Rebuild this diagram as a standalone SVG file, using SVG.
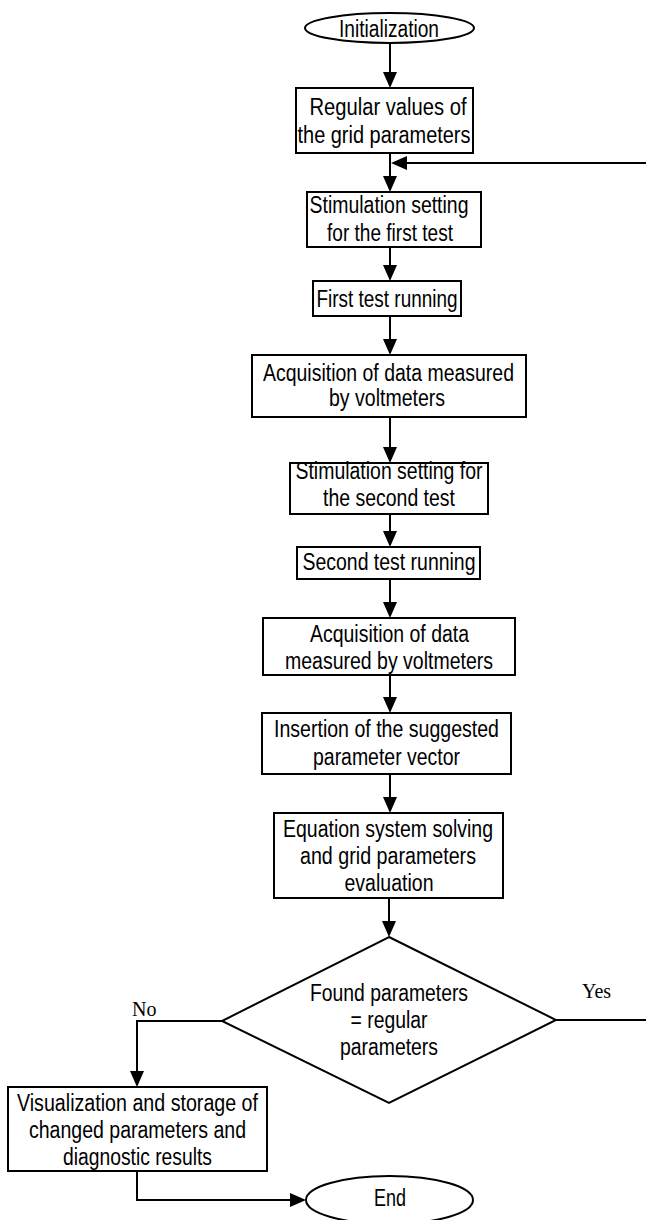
<svg xmlns="http://www.w3.org/2000/svg" width="646" height="1220" viewBox="0 0 646 1220">
<style>
.box{fill:#fff;stroke:#000;stroke-width:2}
.t{font-family:'Liberation Sans Narrow','Liberation Sans',Arial,sans-serif;font-size:23px;fill:#000;text-anchor:middle}
.lbl{font-family:'Liberation Serif','Times New Roman',serif;font-size:20px;fill:#000}
.c{fill:none;stroke:#000;stroke-width:2}
</style>
<defs>
<marker id="arr" viewBox="0 0 16 16" refX="14" refY="8" markerWidth="16" markerHeight="16" markerUnits="userSpaceOnUse" orient="auto">
<path d="M0,1 L16,8 L0,15 z" fill="#000"/>
</marker>
</defs>
<rect width="646" height="1220" fill="#fff"/>
<g id="connectors">
<path class="c" d="M390,43 V86" marker-end="url(#arr)"/>
<path class="c" d="M390,153 V190" marker-end="url(#arr)"/>
<path class="c" d="M556,1020 H660 V163 H393" marker-end="url(#arr)"/>
<path class="c" d="M390,247 V279" marker-end="url(#arr)"/>
<path class="c" d="M390,316 V353" marker-end="url(#arr)"/>
<path class="c" d="M390,417 V461" marker-end="url(#arr)"/>
<path class="c" d="M390,514 V545" marker-end="url(#arr)"/>
<path class="c" d="M390,579 V616" marker-end="url(#arr)"/>
<path class="c" d="M390,675 V711" marker-end="url(#arr)"/>
<path class="c" d="M390,774 V811" marker-end="url(#arr)"/>
<path class="c" d="M389,898 V935" marker-end="url(#arr)"/>
<path class="c" d="M222,1021 H137 V1085" marker-end="url(#arr)"/>
<path class="c" d="M137,1171 V1200 H304" marker-end="url(#arr)"/>
<text class="lbl" x="132" y="1016">No</text>
<text class="lbl" x="582" y="998">Yes</text>
</g>
<g id="n-init">
<ellipse class="box" cx="389.5" cy="28" rx="84.5" ry="15"/>
<text class="t" x="389" y="37" textLength="100" lengthAdjust="spacingAndGlyphs">Initialization</text>
</g>
<g id="n-regular">
<rect class="box" x="296" y="88" width="177" height="65"/>
<text class="t" x="388" y="115" textLength="157" lengthAdjust="spacingAndGlyphs">Regular values of</text>
<text class="t" x="384" y="143" textLength="173" lengthAdjust="spacingAndGlyphs">the grid parameters</text>
</g>
<g id="n-stim1">
<rect class="box" x="307" y="192" width="174" height="55"/>
<text class="t" x="389" y="213" textLength="159" lengthAdjust="spacingAndGlyphs">Stimulation setting</text>
<text class="t" x="390" y="241" textLength="126" lengthAdjust="spacingAndGlyphs">for the first test</text>
</g>
<g id="n-test1">
<rect class="box" x="313" y="281" width="148" height="35"/>
<text class="t" x="387" y="307" textLength="141" lengthAdjust="spacingAndGlyphs">First test running</text>
</g>
<g id="n-acq1">
<rect class="box" x="252" y="355" width="274" height="62"/>
<text class="t" x="388.5" y="381" textLength="251" lengthAdjust="spacingAndGlyphs">Acquisition of data measured</text>
<text class="t" x="387" y="406" textLength="116" lengthAdjust="spacingAndGlyphs">by voltmeters</text>
</g>
<g id="n-stim2">
<rect class="box" x="290" y="463" width="198" height="51"/>
<text class="t" x="389" y="479" textLength="187" lengthAdjust="spacingAndGlyphs">Stimulation setting for</text>
<text class="t" x="389" y="506" textLength="132" lengthAdjust="spacingAndGlyphs">the second test</text>
</g>
<g id="n-test2">
<rect class="box" x="297" y="547" width="183" height="32"/>
<text class="t" x="389" y="570" textLength="173" lengthAdjust="spacingAndGlyphs">Second test running</text>
</g>
<g id="n-acq2">
<rect class="box" x="263" y="618" width="252" height="57"/>
<text class="t" x="389.5" y="642" textLength="159" lengthAdjust="spacingAndGlyphs">Acquisition of data</text>
<text class="t" x="389" y="669" textLength="208" lengthAdjust="spacingAndGlyphs">measured by voltmeters</text>
</g>
<g id="n-insert">
<rect class="box" x="262" y="713" width="249" height="61"/>
<text class="t" x="386.5" y="737" textLength="225" lengthAdjust="spacingAndGlyphs">Insertion of the suggested</text>
<text class="t" x="386.5" y="765" textLength="147" lengthAdjust="spacingAndGlyphs">parameter vector</text>
</g>
<g id="n-solve">
<rect class="box" x="274" y="813" width="229" height="85"/>
<text class="t" x="388" y="837" textLength="210" lengthAdjust="spacingAndGlyphs">Equation system solving</text>
<text class="t" x="388" y="864" textLength="176" lengthAdjust="spacingAndGlyphs">and grid parameters</text>
<text class="t" x="389" y="891" textLength="89" lengthAdjust="spacingAndGlyphs">evaluation</text>
</g>
<g id="n-decision">
<polygon class="box" points="389,937 556,1020 389,1103 222,1021"/>
<text class="t" x="389" y="1001" textLength="158" lengthAdjust="spacingAndGlyphs">Found parameters</text>
<text class="t" x="389" y="1028" textLength="77" lengthAdjust="spacingAndGlyphs">= regular</text>
<text class="t" x="389" y="1055" textLength="98" lengthAdjust="spacingAndGlyphs">parameters</text>
</g>
<g id="n-visual">
<rect class="box" x="8" y="1087" width="259" height="84"/>
<text class="t" x="137.5" y="1111" textLength="241" lengthAdjust="spacingAndGlyphs">Visualization and storage of</text>
<text class="t" x="137.5" y="1138" textLength="217" lengthAdjust="spacingAndGlyphs">changed parameters and</text>
<text class="t" x="137.5" y="1165" textLength="149" lengthAdjust="spacingAndGlyphs">diagnostic results</text>
</g>
<g id="n-end">
<ellipse class="box" cx="389.5" cy="1200" rx="83.5" ry="24"/>
<text class="t" x="390" y="1206" textLength="32" lengthAdjust="spacingAndGlyphs">End</text>
</g>
</svg>
